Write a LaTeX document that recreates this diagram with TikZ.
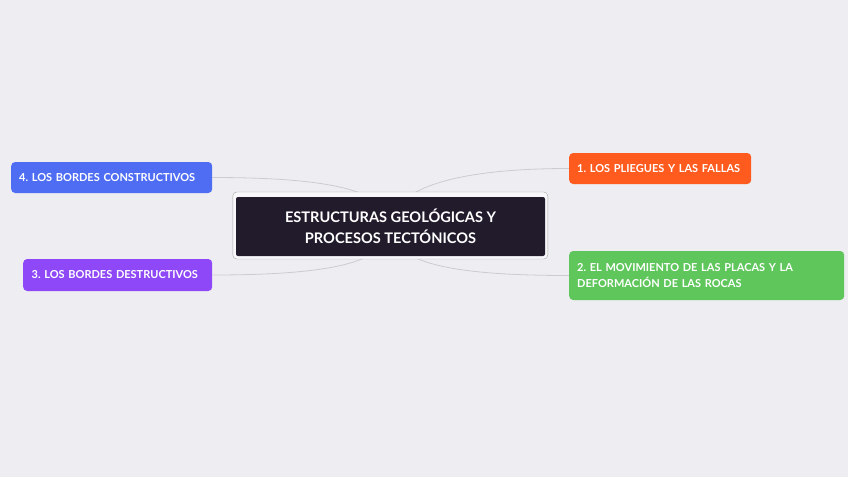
\documentclass[tikz,border=0pt]{standalone}
\usepackage{fontspec}
\setmainfont{Lato Bold}
\usepackage{tikz}
\pgfdeclarelayer{bg}
\pgfsetlayers{bg,main}
\frenchspacing
\definecolor{paper}{HTML}{EEEDF2}
\definecolor{rootfill}{HTML}{221B2C}
\definecolor{linkgray}{HTML}{CBCBD0}
\definecolor{topicblue}{HTML}{4E6DF3}
\definecolor{topicpurple}{HTML}{8E48F7}
\definecolor{topicorange}{HTML}{FF5B1F}
\definecolor{topicgreen}{HTML}{5EC65B}
\tikzset{
	topic/.style={rounded corners=4pt, text=white, font=\fontsize{11}{16}\selectfont, align=left, inner xsep=8pt, inner ysep=0pt, anchor=west},
	link/.style={draw=linkgray, line width=0.8pt}
}

\begin{document}
		\begin{tikzpicture}[x=1pt,y=-1pt]
			\useasboundingbox (0,0) rectangle (848,477);
			\node[draw=gray!70, fill=white!60!paper, rounded corners=4pt, minimum width=315pt, minimum height=67pt] (frame) at (390.3,225.5) {};
			\node[fill=rootfill, rounded corners=2pt, minimum width=309pt, minimum height=59pt, text=white, align=center, font=\fontsize{14.6}{21}\selectfont] (root) at (390.5,226.5) {ESTRUCTURAS GEOLÓGICAS Y\\PROCESOS TECTÓNICOS};
			\node[topic, fill=topicblue, minimum width=201pt, minimum height=31pt, text width=185pt] (b4) at (11,177.5) {4. LOS BORDES CONSTRUCTIVOS};
			\node[topic, fill=topicpurple, minimum width=189pt, minimum height=32pt, text width=172pt] (b3) at (23,275) {3. LOS BORDES DESTRUCTIVOS};
			\node[topic, fill=topicorange, minimum width=182pt, minimum height=31pt, text width=166pt] (b1) at (569,168.5) {1. LOS PLIEGUES Y LAS FALLAS};
			\node[topic, fill=topicgreen, minimum width=275pt, minimum height=49pt, text width=259pt] (b2) at (569,275.5) {2. EL MOVIMIENTO DE LAS PLACAS Y LA\\DEFORMACIÓN DE LAS ROCAS};
			\begin{pgfonlayer}{bg}
				\fill[paper] (0,0) rectangle (848,477);
				\draw[link] (root.center) .. controls +(0,-36) and +(118,0) .. (b4.east);
				\draw[link] (root.center) .. controls +(0,36) and +(118,0) .. (b3.east);
				\draw[link] (root.center) .. controls +(0,-36) and +(-120,0) .. (b1.west);
				\draw[link] (root.center) .. controls +(0,36) and +(-120,0) .. (b2.west);
			\end{pgfonlayer}
		\end{tikzpicture}
\end{document}
